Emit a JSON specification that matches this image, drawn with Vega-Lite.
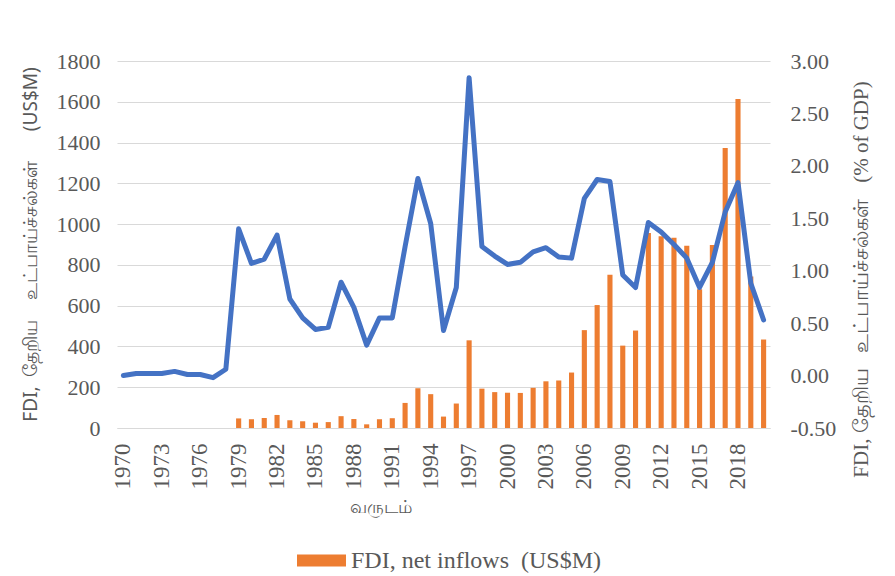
{
  "$schema": "https://vega.github.io/schema/vega-lite/v6.json",
  "autosize": {"type": "none"},
  "padding": {"left": 117, "top": 61, "right": 125, "bottom": 148},
  "width": 653,
  "height": 367,
  "background": "white",
  "config": {
    "view": {"stroke": null},
    "font": "Liberation Serif",
    "axis": {"labelFont": "Liberation Serif", "labelFontSize": 22, "labelColor": "#595959", "titleColor": "#595959", "titleFontWeight": "normal", "gridColor": "#d9d9d9", "ticks": false, "domain": false}
  },
  "data": {"values": [
    {"year": 1970, "fdi": 0, "pct": 0.00},
    {"year": 1971, "fdi": 0, "pct": 0.02},
    {"year": 1972, "fdi": 0, "pct": 0.02},
    {"year": 1973, "fdi": 0, "pct": 0.02},
    {"year": 1974, "fdi": 0, "pct": 0.04},
    {"year": 1975, "fdi": 0, "pct": 0.01},
    {"year": 1976, "fdi": 0, "pct": 0.01},
    {"year": 1977, "fdi": 0, "pct": -0.02},
    {"year": 1978, "fdi": 0, "pct": 0.06},
    {"year": 1979, "fdi": 47, "pct": 1.40},
    {"year": 1980, "fdi": 43, "pct": 1.07},
    {"year": 1981, "fdi": 49, "pct": 1.11},
    {"year": 1982, "fdi": 64, "pct": 1.34},
    {"year": 1983, "fdi": 38, "pct": 0.73},
    {"year": 1984, "fdi": 33, "pct": 0.55},
    {"year": 1985, "fdi": 26, "pct": 0.44},
    {"year": 1986, "fdi": 29, "pct": 0.46},
    {"year": 1987, "fdi": 58, "pct": 0.89},
    {"year": 1988, "fdi": 44, "pct": 0.65},
    {"year": 1989, "fdi": 18, "pct": 0.29},
    {"year": 1990, "fdi": 43, "pct": 0.55},
    {"year": 1991, "fdi": 48, "pct": 0.55},
    {"year": 1992, "fdi": 123, "pct": 1.23},
    {"year": 1993, "fdi": 195, "pct": 1.88},
    {"year": 1994, "fdi": 166, "pct": 1.45},
    {"year": 1995, "fdi": 56, "pct": 0.43},
    {"year": 1996, "fdi": 120, "pct": 0.84},
    {"year": 1997, "fdi": 430, "pct": 2.84},
    {"year": 1998, "fdi": 193, "pct": 1.23},
    {"year": 1999, "fdi": 176, "pct": 1.14},
    {"year": 2000, "fdi": 173, "pct": 1.06},
    {"year": 2001, "fdi": 172, "pct": 1.08},
    {"year": 2002, "fdi": 197, "pct": 1.18},
    {"year": 2003, "fdi": 229, "pct": 1.22},
    {"year": 2004, "fdi": 233, "pct": 1.13},
    {"year": 2005, "fdi": 272, "pct": 1.12},
    {"year": 2006, "fdi": 480, "pct": 1.69},
    {"year": 2007, "fdi": 603, "pct": 1.87},
    {"year": 2008, "fdi": 752, "pct": 1.85},
    {"year": 2009, "fdi": 404, "pct": 0.96},
    {"year": 2010, "fdi": 478, "pct": 0.84},
    {"year": 2011, "fdi": 956, "pct": 1.46},
    {"year": 2012, "fdi": 941, "pct": 1.37},
    {"year": 2013, "fdi": 933, "pct": 1.25},
    {"year": 2014, "fdi": 894, "pct": 1.12},
    {"year": 2015, "fdi": 680, "pct": 0.84},
    {"year": 2016, "fdi": 897, "pct": 1.08},
    {"year": 2017, "fdi": 1373, "pct": 1.56},
    {"year": 2018, "fdi": 1614, "pct": 1.84},
    {"year": 2019, "fdi": 743, "pct": 0.88},
    {"year": 2020, "fdi": 434, "pct": 0.53}
  ]},
  "encoding": {
    "x": {
      "field": "year", "type": "ordinal",
      "scale": {"paddingInner": 0.6, "paddingOuter": 0.3},
      "axis": {
        "values": [1970, 1973, 1976, 1979, 1982, 1985, 1988, 1991, 1994, 1997, 2000, 2003, 2006, 2009, 2012, 2015, 2018],
        "labelAngle": -90, "labelPadding": 15, "labelFontSize": 23, "domain": true, "domainColor": "#d9d9d9",
        "title": "வருடம்", "titleFont": "Liberation Serif", "titleFontSize": 18, "titlePadding": 9, "titleX": 263
      }
    }
  },
  "layer": [
    {
      "mark": {"type": "bar"},
      "encoding": {
        "y": {
          "field": "fdi", "type": "quantitative",
          "scale": {"domain": [0, 1800], "nice": false},
          "axis": {
            "orient": "left", "values": [0, 200, 400, 600, 800, 1000, 1200, 1400, 1600, 1800], "format": "d",
            "labelPadding": 17, "grid": true,
            "title": "FDI,\u00a0 தேறிய\u00a0\u00a0\u00a0 உட்பாய்ச்சல்கள்\u00a0\u00a0\u00a0\u00a0\u00a0 (US$M)", "titleFont": "Noto Sans", "titleFontSize": 19,
            "titleX": -87, "titleY": 183, "titleAngle": -90, "titleAlign": "center", "titleBaseline": "middle"
          }
        },
        "color": {
          "datum": "FDI, net inflows\u00a0 (US$M)",
          "scale": {"range": ["#ED7D31"]},
          "legend": {
            "title": null, "orient": "none", "legendX": 180, "legendY": 475,
            "symbolType": "M-1,-0.25H1V0.25H-1Z", "symbolSize": 2400, "symbolStrokeWidth": 0,
            "labelFont": "Liberation Serif", "labelFontSize": 24, "labelColor": "#595959", "labelOffset": 5, "labelLimit": 600
          }
        }
      }
    },
    {
      "mark": {"type": "line", "color": "#4472C4", "strokeWidth": 5, "strokeJoin": "round", "strokeCap": "round"},
      "encoding": {
        "y": {
          "field": "pct", "type": "quantitative",
          "scale": {"domain": [-0.5, 3], "nice": false, "zero": false},
          "axis": {
            "orient": "right", "values": [-0.5, 0, 0.5, 1, 1.5, 2, 2.5, 3],
            "labelExpr": "replace(format(datum.value, '.2f'), '−', '-')",
            "labelPadding": 20, "grid": false,
            "title": "FDI, தேறிய\u00a0\u00a0 உட்பாய்ச்சல்கள்\u00a0\u00a0 (% of GDP)", "titleFont": "Liberation Serif", "titleFontSize": 21,
            "titleX": 91, "titleY": 218, "titleAngle": -90, "titleAlign": "center", "titleBaseline": "middle"
          }
        }
      }
    }
  ],
  "resolve": {"scale": {"y": "independent"}}
}
